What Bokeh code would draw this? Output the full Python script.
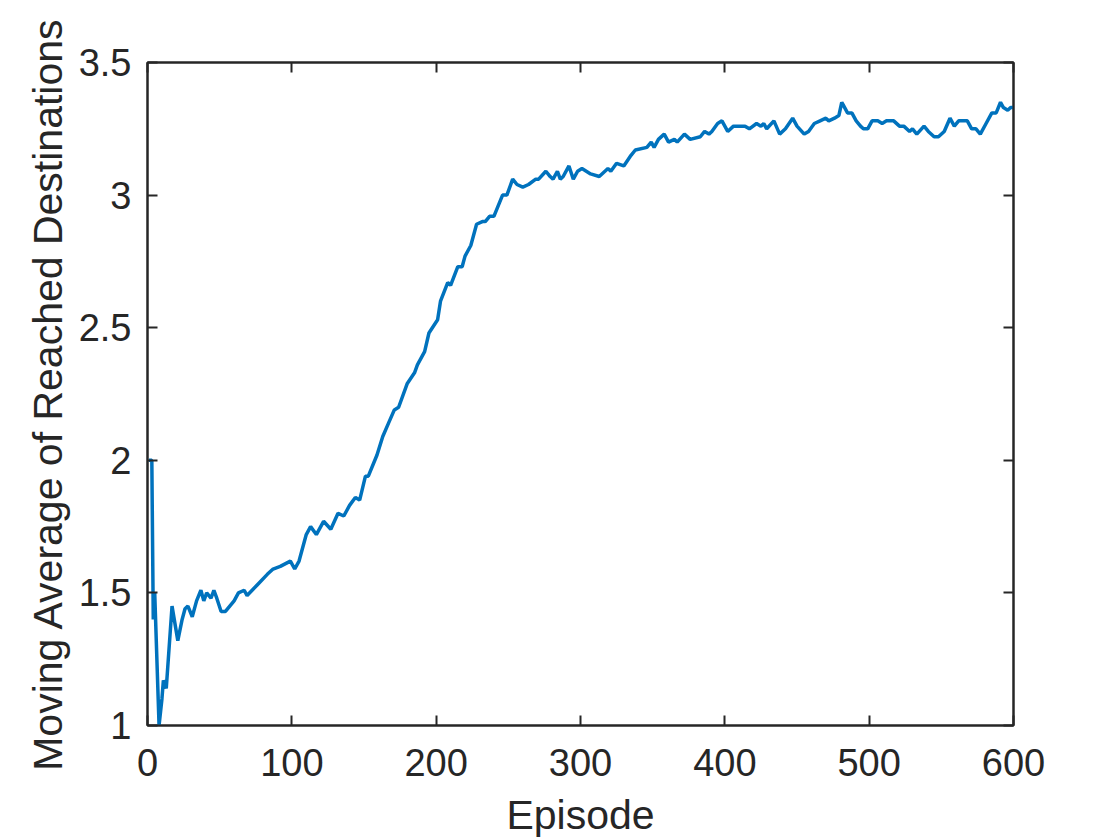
from bokeh.plotting import figure
from bokeh.models import LinearAxis, FixedTicker, Range1d, CustomJSTickFormatter
from bokeh.embed import file_html
from bokeh.resources import INLINE

episodes = [1, 3, 4, 5, 8, 10, 11, 13, 17, 21, 24, 26, 28, 31, 34, 37, 39, 41, 44, 46, 48, 51,
            54, 57, 60, 63, 67, 69, 76, 83, 87, 92, 99, 102, 105, 110, 113, 117, 122, 127, 132,
            136, 140, 144, 147, 151, 153, 159, 163, 167, 171, 174, 180, 185, 187, 192, 195, 201,
            203, 208, 210, 215, 218, 220, 224, 228, 232, 234, 237, 240, 246, 249, 253, 256, 260,
            264, 269, 271, 276, 279, 281, 284, 286, 288, 292, 295, 298, 301, 304, 307, 313, 319,
            321, 325, 330, 335, 338, 346, 349, 351, 354, 358, 361, 365, 367, 372, 376, 383, 386,
            389, 391, 395, 398, 402, 406, 410, 414, 417, 422, 425, 427, 429, 434, 438, 442, 447,
            450, 455, 458, 462, 466, 470, 472, 476, 479, 481, 482, 485, 488, 491, 494, 496, 499,
            502, 506, 509, 512, 517, 521, 524, 528, 530, 533, 538, 541, 545, 548, 552, 556, 559,
            562, 565, 568, 571, 574, 577, 581, 585, 588, 591, 593, 596, 598, 600]
moving_avg = [2.00, 2.00, 1.40, 1.50, 1.00, 1.10, 1.17, 1.14, 1.45, 1.32, 1.40, 1.44, 1.45, 1.41,
              1.47, 1.51, 1.47, 1.50, 1.48, 1.51, 1.48, 1.43, 1.43, 1.45, 1.47, 1.50, 1.51, 1.49,
              1.53, 1.57, 1.59, 1.60, 1.62, 1.59, 1.62, 1.72, 1.75, 1.72, 1.77, 1.74, 1.80,
              1.79, 1.83, 1.86, 1.85, 1.94, 1.94, 2.02, 2.09, 2.14, 2.19, 2.20, 2.29, 2.33, 2.36,
              2.41, 2.48, 2.53, 2.60, 2.67, 2.66, 2.73, 2.73, 2.77, 2.81, 2.89, 2.90, 2.90, 2.92,
              2.92, 3.00, 3.00, 3.06, 3.04, 3.03, 3.04, 3.06, 3.06, 3.09, 3.07, 3.06, 3.09, 3.06,
              3.07, 3.11, 3.06, 3.09, 3.10, 3.09, 3.08, 3.07, 3.10, 3.09, 3.12, 3.11, 3.15, 3.17,
              3.18, 3.20, 3.18, 3.21, 3.23, 3.20, 3.21, 3.20, 3.23, 3.21, 3.22, 3.24, 3.23, 3.24,
              3.27, 3.28, 3.24, 3.26, 3.26, 3.26, 3.25, 3.27, 3.26, 3.27, 3.25, 3.28, 3.23, 3.25,
              3.29, 3.26, 3.23, 3.24, 3.27, 3.28, 3.29, 3.28, 3.29, 3.30, 3.35, 3.34, 3.31, 3.31,
              3.28, 3.26, 3.25, 3.25, 3.28, 3.28, 3.27, 3.28, 3.28, 3.26, 3.26, 3.24, 3.25, 3.23,
              3.26, 3.24, 3.22, 3.22, 3.24, 3.29, 3.26, 3.28, 3.28, 3.28, 3.25, 3.25, 3.23, 3.27,
              3.31, 3.31, 3.35, 3.33, 3.32, 3.33, 3.33]

x_ticks = [0, 100, 200, 300, 400, 500, 600]
y_ticks = [1, 1.5, 2, 2.5, 3, 3.5]
y_tick_labels = {1: "1", 1.5: "1.5", 2: "2", 2.5: "2.5", 3: "3", 3.5: "3.5"}

FONT = "Liberation Sans"
AX = "#262626"
TICK_FS = "38px"
LABEL_FS = "41px"

p = figure(width=1104, height=830, frame_width=866, frame_height=663,
           x_range=Range1d(0, 600), y_range=Range1d(1, 3.5),
           output_backend="svg", toolbar_location=None,
           x_axis_label="Episode", y_axis_label="Moving Average of Reached Destinations",
           min_border_left=147, min_border_top=62, min_border_right=91, min_border_bottom=105)
p.grid.visible = False
p.outline_line_color = AX
p.outline_line_width = 2
p.background_fill_color = "white"
p.border_fill_color = "white"

p.line(episodes, moving_avg, line_color="#0072BD", line_width=3.5)

for ax in (p.xaxis[0], p.yaxis[0]):
    ax.axis_line_color = AX
    ax.axis_line_width = 2
    ax.major_tick_line_color = AX
    ax.major_tick_line_width = 2
    ax.major_tick_in = 10
    ax.major_tick_out = 0
    ax.minor_tick_line_color = None
    ax.major_label_text_font = FONT
    ax.major_label_text_font_size = TICK_FS
    ax.major_label_text_color = AX
    ax.axis_label_text_font = FONT
    ax.axis_label_text_font_size = LABEL_FS
    ax.axis_label_text_font_style = "normal"
    ax.axis_label_text_color = AX

p.xaxis[0].ticker = FixedTicker(ticks=x_ticks)
p.yaxis[0].ticker = FixedTicker(ticks=y_ticks)
p.yaxis[0].major_label_overrides = y_tick_labels
p.xaxis[0].major_label_standoff = 23
p.yaxis[0].major_label_standoff = 16
p.xaxis[0].axis_label_standoff = 13
p.yaxis[0].axis_label_standoff = 5

top = LinearAxis(ticker=FixedTicker(ticks=x_ticks))
right = LinearAxis(ticker=FixedTicker(ticks=y_ticks))
for ax in (top, right):
    ax.axis_line_color = AX
    ax.axis_line_width = 2
    ax.major_tick_line_color = AX
    ax.major_tick_line_width = 2
    ax.major_tick_in = 10
    ax.major_tick_out = 0
    ax.minor_tick_line_color = None
    ax.formatter = CustomJSTickFormatter(code="return '';")
    ax.major_label_standoff = 0
p.add_layout(top, "above")
p.add_layout(right, "right")

open("out.html", "w").write(file_html(p, INLINE))
